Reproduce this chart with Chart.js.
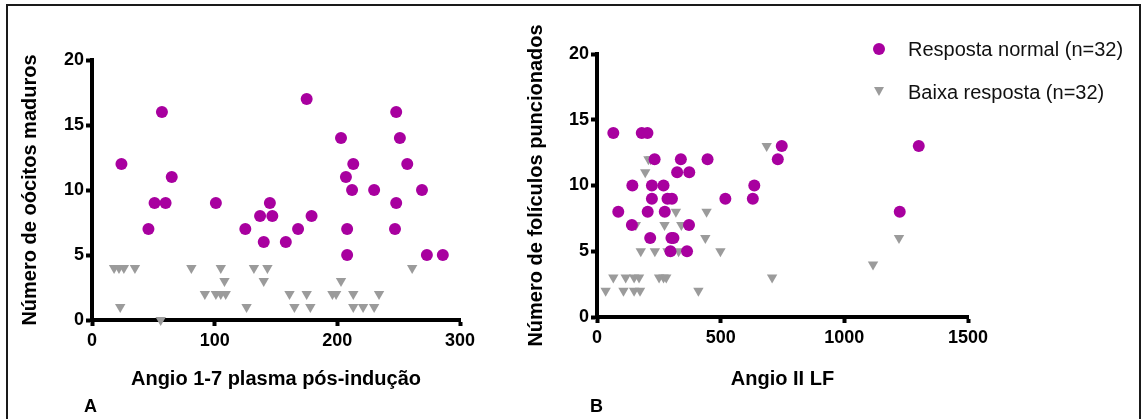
<!DOCTYPE html>
<html>
<head>
<meta charset="utf-8">
<script src="https://cdn.jsdelivr.net/npm/chart.js@4"></script>
<style>
  body { margin: 0; background: #fff; width: 1143px; height: 419px; overflow: hidden; position: relative;
         font-family: "Liberation Sans", Arial, sans-serif; }
  #frame { position: absolute; left: 6px; top: 4px; width: 1131px; height: 440px; border: 2px solid #1a1a1a; }
  canvas { position: absolute; top: 0; }
  #chartA { left: 0; }
  #chartB { left: 480px; }
  .panel { position: absolute; top: 396px; font-weight: bold; font-size: 18px; line-height: 20px; }
  .leg { position: absolute; left: 908px; font-size: 20px; line-height: 24px; color: #111; }
  .dot { position: absolute; left: 873px; width: 12px; height: 12px; border-radius: 50%; background: #A8009F; }
  .tri { position: absolute; left: 874px; width: 0; height: 0; border-left: 5px solid transparent;
         border-right: 5px solid transparent; border-top: 9px solid #9B9B9B; }
</style>
</head>
<body>
<div id="frame"></div>
<canvas id="chartA" width="560" height="419"></canvas>
<canvas id="chartB" width="663" height="419"></canvas>
<div class="panel" style="left:84px">A</div>
<div class="panel" style="left:590px">B</div>
<div class="dot" style="top:43px"></div>
<div class="leg" id="leg0" style="top:37px"></div>
<div class="tri" style="top:87px"></div>
<div class="leg" id="leg1" style="top:80px"></div>
<script>
// Legendas
const seriesLabels = ['Resposta normal (n=32)', 'Baixa resposta (n=32)'];
const colorNormal = '#A8009F';
const colorLow = '#9B9B9B';

// Ticks
const yTicks = [0, 5, 10, 15, 20];
const aXTicks = [0, 100, 200, 300];
const bXTicks = [0, 500, 1000, 1500];

// Painel A: Angio 1-7 plasma pós-indução vs oócitos maduros
const aNormalX = [24, 46, 51, 57, 60, 65, 101, 125, 137, 140, 145, 147, 158, 168, 175, 179, 203, 207, 208, 208, 212, 213, 230, 247, 248, 248, 251, 257, 269, 273, 286];
const aNormalY = [12, 7, 9, 16, 9, 11, 9, 7, 8, 6, 9, 8, 6, 7, 17, 8, 14, 11, 7, 5, 10, 12, 10, 7, 16, 9, 14, 12, 10, 5, 5];
const aLowX = [18, 22, 26, 35, 23, 56, 81, 92, 101, 105, 109, 105, 108, 126, 132, 140, 143, 161, 165, 175, 178, 196, 199, 203, 213, 213, 221, 230, 234, 261];
const aLowY = [4, 4, 4, 4, 1, 0, 4, 2, 2, 2, 2, 4, 3, 1, 4, 3, 4, 2, 1, 2, 1, 2, 2, 3, 2, 1, 1, 1, 2, 4];

// Painel B: Angio II LF vs folículos puncionados
const bNormalX = [66, 86, 141, 143, 181, 204, 205, 215, 222, 222, 233, 269, 274, 285, 297, 301, 303, 309, 324, 339, 364, 372, 373, 447, 519, 630, 636, 731, 747, 1224, 1301];
const bNormalY = [14, 8, 7, 10, 14, 14, 8, 6, 10, 9, 12, 10, 8, 9, 5, 6, 9, 6, 11, 12, 5, 7, 11, 12, 9, 9, 10, 12, 13, 8, 13];
const bLowX = [35, 66, 107, 116, 150, 150, 157, 170, 174, 177, 195, 208, 217, 234, 251, 269, 273, 280, 285, 319, 330, 341, 410, 438, 443, 499, 686, 708, 1116, 1221];
const bLowY = [2, 3, 2, 3, 3, 2, 7, 3, 2, 5, 11, 12, 12, 5, 3, 3, 7, 3, 5, 8, 5, 7, 2, 6, 8, 5, 13, 3, 4, 6];

document.getElementById('leg0').innerText = seriesLabels[0];
document.getElementById('leg1').innerText = seriesLabels[1];

function toPoints(xs, ys) {
    return xs.map((x, i) => ({ x: x, y: ys[i] }));
}

const tickFont = { family: 'Liberation Sans', size: 18, weight: 'bold' };
const titleFont = { family: 'Liberation Sans', size: 20, weight: 'bold' };

// Monta um gráfico de dispersão no estilo Prism
function makeChart(id, cfg) {
    let ctx = document.getElementById(id).getContext('2d');
    return new Chart(ctx, {
        type: 'scatter',
        data: {
            datasets: [{
                label: seriesLabels[0],
                data: toPoints(cfg.normalX, cfg.normalY),
                pointStyle: 'circle',
                pointRadius: 6,
                backgroundColor: colorNormal,
                borderWidth: 0,
                clip: false
            }, {
                label: seriesLabels[1],
                data: toPoints(cfg.lowX, cfg.lowY),
                pointStyle: 'triangle',
                rotation: 180,
                pointRadius: 6,
                backgroundColor: colorLow,
                borderWidth: 0,
                clip: false
            }]
        },
        options: {
            responsive: false,
            animation: false,
            layout: { padding: { left: 0, top: cfg.top, right: cfg.right, bottom: 0 } },
            plugins: { legend: { display: false }, tooltip: { enabled: false } },
            scales: {
                x: {
                    type: 'linear',
                    min: 0,
                    max: cfg.xMax,
                    afterBuildTicks: s => { s.ticks = cfg.xTicks.map(v => ({ value: v })); },
                    afterFit: s => { s.height = cfg.xHeight; },
                    grid: { drawOnChartArea: false, drawTicks: true, tickLength: 6, tickWidth: 4, tickColor: '#000' },
                    border: { display: true, color: '#000', width: 4 },
                    ticks: { color: '#000', font: tickFont, padding: 4, maxRotation: 0, callback: v => String(v) },
                    title: { display: true, text: cfg.xTitle, color: '#000', font: titleFont, padding: { top: 0, bottom: cfg.xTitlePad } }
                },
                y: {
                    type: 'linear',
                    min: 0,
                    max: 20,
                    afterBuildTicks: s => { s.ticks = yTicks.map(v => ({ value: v })); },
                    afterFit: s => { s.width = cfg.yWidth; },
                    grid: { drawOnChartArea: false, drawTicks: true, tickLength: 6, tickWidth: 4, tickColor: '#000' },
                    border: { display: true, color: '#000', width: 4 },
                    ticks: { color: '#000', font: tickFont, padding: 2, callback: v => String(v) },
                    title: { display: true, text: cfg.yTitle, color: '#000', font: titleFont, padding: { top: cfg.yTitlePad, bottom: 0 } }
                }
            }
        }
    });
}

makeChart('chartA', {
    normalX: aNormalX, normalY: aNormalY, lowX: aLowX, lowY: aLowY,
    xMax: 300, xTicks: aXTicks,
    xTitle: 'Angio 1-7 plasma pós-indução', yTitle: 'Número de oócitos maduros',
    top: 60, right: 100, xHeight: 99, yWidth: 92, xTitlePad: 28, yTitlePad: 18
});

makeChart('chartB', {
    normalX: bNormalX, normalY: bNormalY, lowX: bLowX, lowY: bLowY,
    xMax: 1500, xTicks: bXTicks,
    xTitle: 'Angio II LF', yTitle: 'Número de folículos puncionados',
    top: 54, right: 175, xHeight: 102, yWidth: 117, xTitlePad: 28, yTitlePad: 44
});
</script>
</body>
</html>
